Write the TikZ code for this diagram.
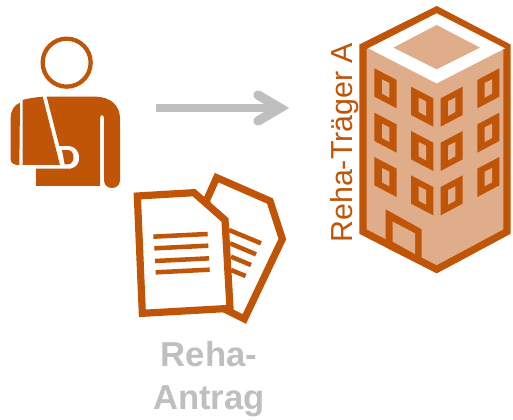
\documentclass[tikz,border=0pt]{standalone}
\usepackage{fontspec}
\setsansfont{Liberation Sans}
\usetikzlibrary{positioning}
\definecolor{rehaorange}{HTML}{C05508}
\definecolor{rehaface}{HTML}{E0AD8B}
\definecolor{rehagray}{HTML}{BFBFBF}

\begin{document}
\begin{tikzpicture}[
		x=0.75pt, y=-0.75pt,
		every node/.style = {inner sep=0pt, font=\sffamily},
		solid part/.style = {fill=rehaorange, draw=none},
		outline/.style = {draw=rehaorange, line width=5.4pt, line join=miter},
		paper/.style = {outline, fill=white},
		text line/.style = {draw=rehaorange, line width=3.4pt},
		window/.style = {fill=rehaorange},
		pane/.style = {fill=rehaface},
		arrow line/.style = {draw=rehagray, line width=6pt},
		legend/.style = {text=rehagray, font=\sffamily\bfseries\fontsize{26}{32}\selectfont, align=center}
                    ]
		\useasboundingbox (0,0) rectangle (513,420);

		% patient with arm in a sling
		\begin{scope}[shift={(0,20)}, x=0.25pt, y=-0.25pt]
		\draw[outline, line width=3.2pt, fill=white] (200,128) circle (72);
		\fill[solid part] (140,230) -- (285,230) .. controls (335,230) and (360,260) .. (360,295)
			-- (360,480) .. controls (360,512) and (312,512) .. (312,480) -- (312,295)
			.. controls (312,282) and (300,282) .. (300,295) -- (300,498) -- (108,498) -- (108,446)
			-- (212,446) .. controls (250,440) and (245,378) .. (205,378) -- (178,378) -- cycle;
		\fill[solid part] (68,240) .. controls (88,234) and (108,232) .. (128,230) -- (180,435) -- (68,435) -- cycle;
		\fill[solid part] (60,248) .. controls (42,255) and (32,272) .. (32,295) -- (32,418)
			.. controls (32,430) and (44,436) .. (58,435) -- cycle;
		\fill[solid part] (186,390) -- (204,390) .. controls (226,390) and (226,433) .. (204,433) -- (194,433) -- cycle;
		\end{scope}

		% arrow towards the carrier
		\coordinate (patientEnd) at (156,108);
		\coordinate (carrierEnd) at (280,108);
		\coordinate (barbUp) at (258,95);
		\coordinate (barbDown) at (258,121);
		\draw[arrow line] (patientEnd) -- (carrierEnd);
		\draw[arrow line, line width=7pt, line cap=round, line join=miter] (barbUp) -- (carrierEnd) -- (barbDown);

		% application papers
		\begin{scope}[shift={(125,165)}, x=0.25pt, y=-0.25pt]
		\draw[paper] (245,105) -- (275,38) -- (435,108) -- (472,222) -- (358,462) -- (290,428) -- cycle;
		\foreach \xa/\ya/\xb/\yb in {312/195/408/235, 315/235/393/268, 318/275/378/300, 318/315/362/333}
			\draw[text line] (\xa,\ya) -- (\xb,\yb);
		\draw[paper] (37,93) -- (207,83) -- (300,165) -- (315,430) -- (52,445) -- cycle;
		\foreach \xa/\ya/\xb/\yb in {85/215/248/207, 88/250/250/242, 90/288/252/280, 92/322/254/314}
			\draw[text line] (\xa,\ya) -- (\xb,\yb);
		\end{scope}

		% building
		\begin{scope}[shift={(320,0)}, x=0.25pt, y=-0.25pt]
		\draw[outline, fill=rehaface] (350,30) -- (561,140) -- (561,695) -- (350,808) -- (129,695) -- (129,140) -- cycle;
		\fill[white] (350,40) -- (555,145) -- (350,250) -- (145,145) -- cycle;
		\fill[pane] (350,75) -- (480,143) -- (350,208) -- (220,143) -- cycle;
		\foreach \row in {0,133,266}{
			\fill[window] (163,205+\row) -- (230,240+\row) -- (230,325+\row) -- (163,290+\row) -- cycle;
			\fill[pane] (186,238+\row) -- (208,249+\row) -- (208,293+\row) -- (186,281+\row) -- cycle;
			\fill[window] (273,260+\row) -- (340,295+\row) -- (340,380+\row) -- (273,345+\row) -- cycle;
			\fill[pane] (296,293+\row) -- (318,304+\row) -- (318,348+\row) -- (296,336+\row) -- cycle;
			\fill[window] (362,295+\row) -- (428,260+\row) -- (428,345+\row) -- (362,380+\row) -- cycle;
			\fill[pane] (384,304+\row) -- (406,293+\row) -- (406,336+\row) -- (384,348+\row) -- cycle;
			\fill[window] (472,240+\row) -- (538,205+\row) -- (538,290+\row) -- (472,325+\row) -- cycle;
			\fill[pane] (494,249+\row) -- (516,238+\row) -- (516,281+\row) -- (494,293+\row) -- cycle;
		}
		\fill[window] (197,628) -- (305,688) -- (305,796) -- (197,742) -- cycle;
		\fill[pane] (218,665) -- (285,700) -- (285,762) -- (218,725) -- cycle;
		\end{scope}

		\node(carrier) [rotate=90, text=rehaorange, font=\sffamily\fontsize{22.8}{27}\selectfont, anchor=base west] at (352,243) {Reha-Träger A};
		\node(application) [legend] at (209,379) {Reha-\\Antrag};
	\end{tikzpicture}
\end{document}
